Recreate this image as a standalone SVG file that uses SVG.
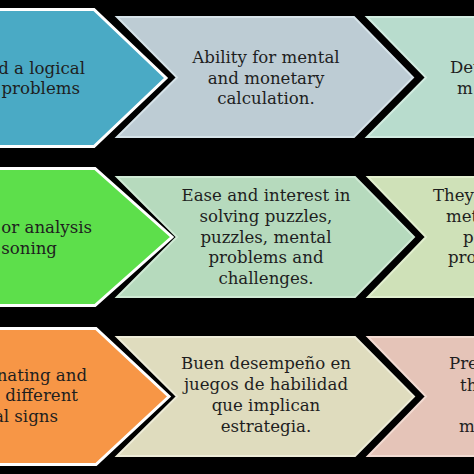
<svg xmlns="http://www.w3.org/2000/svg" width="474" height="474" viewBox="0 0 474 474">
<style>
.t{font-family:"DejaVu Serif","Liberation Serif",serif;font-size:16.6px;fill:#1e1e1e}
.m{text-anchor:middle}
.e{text-anchor:end}
.first{stroke:#ffffff;stroke-width:3;stroke-linejoin:miter}
.soft{stroke-width:2;stroke-linejoin:miter}
</style>
<rect x="0" y="0" width="474" height="474" fill="#000000"/>
<g id="connectors"></g>

<g id="r1c1">
<polygon class="first" fill="#4aaac5" points="-10,9.5 94,9.5 166,78 94,146.5 -10,146.5"/>
<text class="t e" x="85" y="74">d a logical</text>
<text class="t e" x="80" y="94">problems</text>
</g>
<g id="r1c2">
<polygon class="soft" fill="#bdccd4" stroke="#d6e3e9" points="117,17 354,17 413,77.5 354,137 117,137 177,77.5"/>
<text class="t m" x="266" y="63">Ability for mental</text>
<text class="t m" x="266" y="84">and monetary</text>
<text class="t m" x="266" y="104">calculation.</text>
</g>
<g id="r1c3">
<polygon class="soft" fill="#b8dccd" stroke="#d2ece1" points="367,17 480,17 480,137 367,137 426,77.5"/>
<text class="t" x="450" y="73">Det</text>
<text class="t" x="457" y="94">m</text>
</g>

<g id="r2c1">
<polygon class="first" fill="#5ddf4b" points="-10,168.5 95,168.5 172,237 95,305.5 -10,305.5"/>
<text class="t e" x="92" y="233">or analysis</text>
<text class="t e" x="57" y="254">soning</text>
</g>
<g id="r2c2">
<polygon class="soft" fill="#b6dabd" stroke="#d0ead5" points="117,177 355,177 414,237 355,297 117,297 177,237"/>
<text class="t m" x="266" y="201">Ease and interest in</text>
<text class="t m" x="266" y="222">solving puzzles,</text>
<text class="t m" x="266" y="243">puzzles, mental</text>
<text class="t m" x="266" y="263">problems and</text>
<text class="t m" x="266" y="284">challenges.</text>
</g>
<g id="r2c3">
<polygon class="soft" fill="#cfe1b8" stroke="#e2efcf" points="368,177 480,177 480,297 368,297 426,237"/>
<text class="t" x="433" y="201">They</text>
<text class="t" x="446" y="222">met</text>
<text class="t" x="463" y="243">p</text>
<text class="t" x="448" y="263">pro</text>
</g>

<g id="r3c1">
<polygon class="first" fill="#f79646" points="-10,328.5 96,328.5 169,396.5 96,464.5 -10,464.5"/>
<text class="t e" x="87" y="381">nating and</text>
<text class="t e" x="78" y="401">different</text>
<text class="t e" x="58" y="422">al signs</text>
</g>
<g id="r3c2">
<polygon class="soft" fill="#dfdcbe" stroke="#eeecd8" points="117,337 355,337 414,396.5 355,456 117,456 177,396.5"/>
<text class="t m" x="266" y="369">Buen desempeño en</text>
<text class="t m" x="266" y="390">juegos de habilidad</text>
<text class="t m" x="266" y="411">que implican</text>
<text class="t m" x="266" y="432">estrategia.</text>
</g>
<g id="r3c3">
<polygon class="soft" fill="#e5c4b8" stroke="#f2dbd2" points="368,337 480,337 480,456 368,456 426,396.5"/>
<text class="t" x="449" y="369">Pre</text>
<text class="t" x="460" y="391">th</text>
<text class="t" x="459" y="432">m</text>
</g>
</svg>
